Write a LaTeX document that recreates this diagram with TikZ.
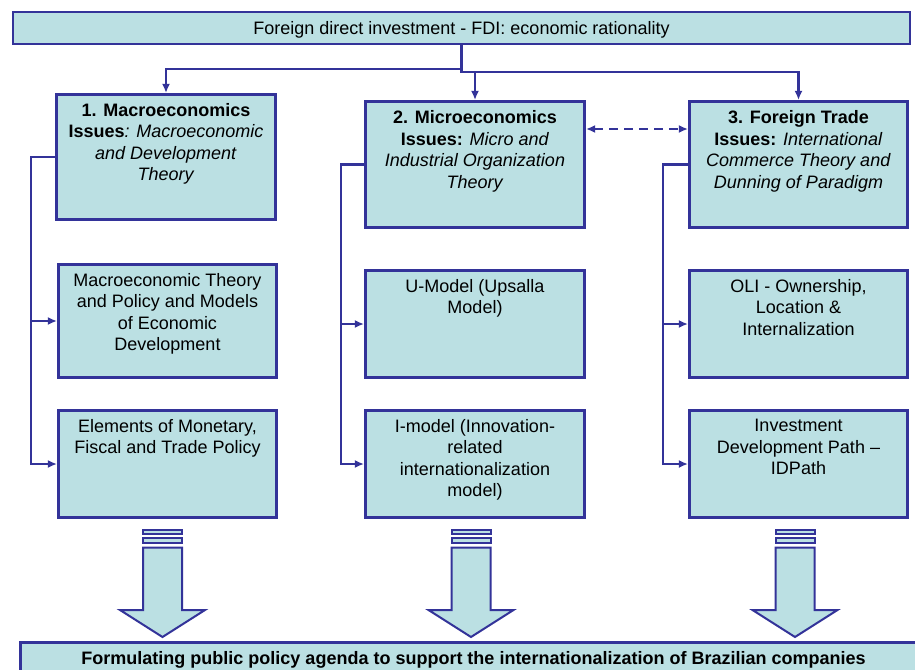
\documentclass[tikz,border=0pt]{standalone}
\usepackage{fontspec}
\setmainfont{Liberation Sans}
\usetikzlibrary{arrows.meta}
\definecolor{pptline}{HTML}{333399}
\definecolor{pptfill}{HTML}{BBE0E3}
\begin{document}
\begin{tikzpicture}[x=1pt,y=-1pt,
  box/.style={draw=pptline,fill=pptfill,line width=2.6pt,inner sep=0pt},
  txt/.style={inner sep=0pt,align=center,font=\fontsize{18}{21.5}\selectfont,text=black},
  conn/.style={draw=pptline,line width=2.3pt},
  tip/.style={-{Latex[length=9pt,width=8pt]}},
  dtip/.style={{Latex[length=9pt,width=8pt]}-{Latex[length=9pt,width=8pt]}},
  blk/.style={draw=pptline,fill=pptfill,line width=2pt,line join=miter}]
\useasboundingbox (0,0) rectangle (915,669);
\clip (0,0) rectangle (915,669);

% top box
\node[box,minimum width=897pt,minimum height=32pt] (top) at (461.5,28) {};
\node[txt] (ttop) at ([yshift=-1.5pt]top.center) {Foreign direct investment - FDI: economic rationality};

% level-1 boxes
\node[box,minimum width=219.5pt,minimum height=125.5pt] (b1) at (166,157) {};
\node[box,minimum width=219.5pt,minimum height=126.5pt] (b2) at (475,164.5) {};
\node[box,minimum width=218.5pt,minimum height=126.5pt] (b3) at (798.5,164.5) {};
\node[txt,anchor=north] (t1) at ([yshift=-10pt]b1.north) {\textbf{1. Macroeconomics}\\\textbf{Issues}\textit{: Macroeconomic}\\\textit{and Development}\\\textit{Theory}};
\node[txt,anchor=north] (t2) at ([yshift=-10.5pt]b2.north) {\textbf{2. Microeconomics}\\\textbf{Issues:} \textit{Micro and}\\\textit{Industrial Organization}\\\textit{Theory}};
\node[txt,anchor=north] (t3) at ([yshift=-10.5pt]b3.north) {\textbf{3. Foreign Trade}\\\textbf{Issues:} \textit{International}\\\textit{Commerce Theory and}\\\textit{Dunning of Paradigm}};

% sub boxes
\node[box,minimum width=218.5pt,minimum height=113.5pt] (b1a) at (167.5,321) {};
\node[box,minimum width=218.5pt,minimum height=107.5pt] (b1b) at (167.5,464) {};
\node[box,minimum width=219.5pt,minimum height=107.5pt] (b2a) at (475,324) {};
\node[box,minimum width=219.5pt,minimum height=107.5pt] (b2b) at (475,464) {};
\node[box,minimum width=218.5pt,minimum height=107.5pt] (b3a) at (798.5,324) {};
\node[box,minimum width=218.5pt,minimum height=107.5pt] (b3b) at (798.5,464) {};
\node[txt,anchor=north] (t1a) at ([yshift=-10pt]b1a.north) {Macroeconomic Theory\\and Policy and Models\\of Economic\\Development};
\node[txt,anchor=north] (t1b) at ([yshift=-10pt]b1b.north) {Elements of Monetary,\\Fiscal and Trade Policy};
\node[txt,anchor=north] (t2a) at ([yshift=-10pt]b2a.north) {U-Model (Upsalla\\Model)};
\node[txt,anchor=north] (t2b) at ([yshift=-10pt]b2b.north) {I-model (Innovation-\\related\\internationalization\\model)};
\node[txt,anchor=north] (t3a) at ([yshift=-10pt]b3a.north) {OLI - Ownership,\\Location \&\\Internalization};
\node[txt,anchor=north] (t3b) at ([yshift=-10pt]b3b.north) {Investment\\Development Path --\\IDPath};

% bottom box
\node[box,anchor=north west,minimum width=920pt,minimum height=40pt] (bot) at (19.25,641.25) {};
\node[txt,anchor=base] (tbot) at (473.5,664) {\textbf{Formulating public policy agenda to support the internationalization of Brazilian companies}};

% top connectors
\coordinate (hl) at (0,69);
\coordinate (hr) at (0,72);
\draw[conn,tip] (top.south) |- (hl -| b1.north) -- (b1.north);
\draw[conn,tip] (top.south) |- (hr -| b3.north) -- (b3.north);
\draw[conn,tip] (hr -| b2.north) -- (b2.north);

% dashed double arrow
\draw[conn,dtip,dash pattern=on 9pt off 6pt] ([yshift=35.5pt]b2.east) -- ([yshift=35.5pt]b3.west);

% side brackets
\draw[conn,tip] (b1.west) -- ++(-24,0) coordinate (k1) |- (b1b.west);
\draw[conn,tip] (k1 |- b1a.west) -- (b1a.west);
\draw[conn,tip] (b2.west) -- ++(-23,0) coordinate (k2) |- (b2b.west);
\draw[conn,tip] (k2 |- b2a.west) -- (b2a.west);
\draw[conn,tip] (b3.west) -- ++(-25,0) coordinate (k3) |- (b3b.west);
\draw[conn,tip] (k3 |- b3a.west) -- (b3a.west);

% block arrows
\foreach \cx in {162.5,471,795}{
  \draw[blk] (\cx-19.5,530.3) rectangle (\cx+19.5,534);
  \draw[blk] (\cx-19.5,537.7) rectangle (\cx+19.5,543.3);
  \draw[blk] (\cx-19.5,547.7) -- (\cx+19.5,547.7) -- (\cx+19.5,610) -- (\cx+42.5,610)
    -- (\cx,637) -- (\cx-42.5,610) -- (\cx-19.5,610) -- cycle;
}
\end{tikzpicture}
\end{document}
